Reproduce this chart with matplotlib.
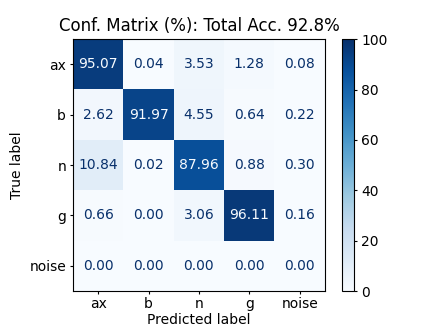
import matplotlib
matplotlib.use("Agg")
import matplotlib.pyplot as plt
import numpy as np

labels = ["ax", "b", "n", "g", "noise"]
row_ax = [95.07, 0.04, 3.53, 1.28, 0.08]
row_b = [2.62, 91.97, 4.55, 0.64, 0.22]
row_n = [10.84, 0.02, 87.96, 0.88, 0.30]
row_g = [0.66, 0.00, 3.06, 96.11, 0.16]
row_noise = [0.00, 0.00, 0.00, 0.00, 0.00]
title = "Conf. Matrix (%): Total Acc. 92.8%"

cm = np.array([row_ax, row_b, row_n, row_g, row_noise])

plt.rcParams["xtick.major.size"] = 2
plt.rcParams["ytick.major.size"] = 2
plt.rcParams["xtick.major.pad"] = 2.5
plt.rcParams["ytick.major.pad"] = 3

fig, ax = plt.subplots(figsize=(4.36, 3.27), dpi=100)
cmap = plt.get_cmap("Blues")
im = ax.imshow(cm, cmap=cmap, vmin=0, vmax=100, interpolation="nearest")
cb = fig.colorbar(im, ax=ax)

thresh = 50
for i in range(cm.shape[0]):
    for j in range(cm.shape[1]):
        color = cmap(0.0) if cm[i, j] > thresh else cmap(1.0)
        ax.text(j, i, f"{cm[i, j]:.2f}", ha="center", va="center", color=color)

ax.set_xticks(range(len(labels)))
ax.set_xticklabels(labels)
ax.set_yticks(range(len(labels)))
ax.set_yticklabels(labels)
ax.set_xlabel("Predicted label", labelpad=1)
ax.set_ylabel("True label")
ax.set_title(title)

fig.savefig("out.png", dpi=100)
